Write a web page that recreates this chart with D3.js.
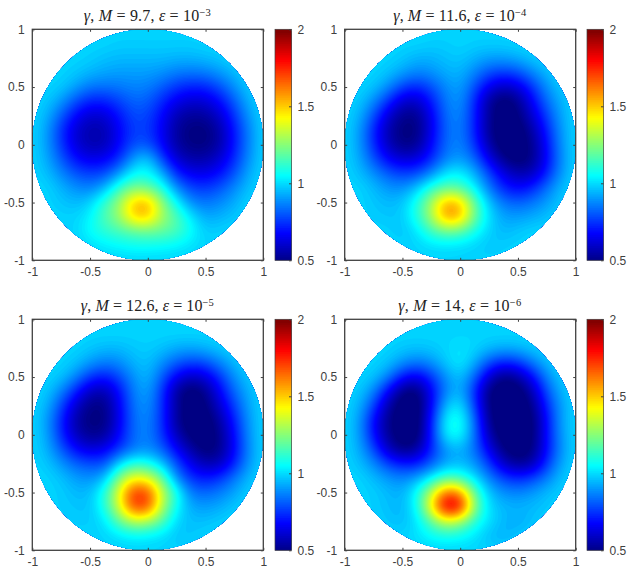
<!DOCTYPE html>
<html><head><meta charset="utf-8">
<script src="https://cdn.jsdelivr.net/npm/d3@7"></script>
<style>
html,body{margin:0;padding:0;background:#fff}
svg{display:block}
text{font-family:"Liberation Sans",Arial,sans-serif;font-size:12px;fill:#404040}
text.ttl{font-family:"Liberation Serif",serif;font-size:16px;fill:#222}
</style></head><body>
<svg id="c" width="637" height="580"></svg>
<script>
const gridAxis=[-1,-.875,-.75,-.625,-.5,-.375,-.25,-.125,0,.125,.25,.375,.5,.625,.75,.875,1];
const axisTicks=[-1,-0.5,0,0.5,1];
const barTicks=[0.5,1,1.5,2];
const one=[1,1,1,1,1,1,1,1,1,1,1,1,1,1,1,1,1];
const gridA=[one,
[1,1,1,1,1,1,.99,.99,.99,.99,.99,.99,1,1,1,1,1],
[1,1,1,1,.99,.97,.96,.96,.96,.96,.95,.95,.96,.98,1,1,1],
[1,1,1,.98,.95,.93,.92,.92,.92,.90,.87,.86,.87,.91,.96,1,1],
[1,1,.98,.92,.86,.85,.86,.88,.87,.82,.76,.73,.74,.80,.90,.98,1],
[1,.98,.91,.80,.73,.73,.78,.83,.82,.74,.66,.62,.63,.70,.82,.95,1],
[1,.95,.82,.69,.62,.63,.71,.79,.78,.69,.58,.54,.55,.62,.76,.91,1],
[1,.92,.76,.63,.57,.58,.68,.77,.77,.67,.55,.50,.50,.57,.72,.88,1],
[1,.92,.77,.64,.58,.59,.69,.80,.81,.69,.56,.51,.51,.57,.72,.88,1],
[1,.94,.82,.71,.66,.68,.76,.92,.98,.79,.63,.57,.57,.63,.75,.90,1],
[1,.97,.89,.81,.78,.80,.92,1.06,1.07,.95,.75,.67,.66,.71,.81,.94,1],
[1,1,.95,.90,.88,.96,1.13,1.24,1.22,1.10,.90,.79,.77,.81,.89,.97,1],
[1,1,.98,.96,1.0,1.13,1.28,1.5,1.53,1.27,1.06,.90,.86,.89,.94,1,1],
[1,1,1,1,1.05,1.17,1.28,1.48,1.5,1.30,1.17,1.03,.94,.95,.98,1,1],
[1,1,1,1,1.07,1.12,1.16,1.2,1.22,1.2,1.16,1.07,.99,1,1,1,1],
[1,1,1,1,1.01,1.04,1.06,1.08,1.08,1.07,1.05,1.02,1,1,1,1,1],
one];
const gridB=[one,
[1,1,1,1,1,1,.99,.99,1,.99,.99,.99,1,1,1,1,1],
[1,1,1,1,.98,.95,.95,.97,.98,.95,.92,.92,.94,.98,1,1,1],
[1,1,1,.97,.92,.88,.90,.94,.95,.88,.80,.77,.80,.88,.96,1,1],
[1,1,.97,.89,.78,.74,.80,.89,.92,.80,.66,.60,.64,.76,.90,.98,1],
[1,.98,.89,.75,.62,.61,.72,.86,.90,.74,.55,.48,.53,.68,.84,.95,1],
[1,.95,.80,.63,.53,.53,.67,.84,.88,.73,.54,.47,.50,.62,.78,.93,1],
[1,.92,.74,.58,.50,.51,.66,.83,.87,.73,.53,.47,.47,.56,.73,.91,1],
[1,.92,.75,.60,.52,.54,.69,.84,.88,.76,.57,.47,.47,.53,.70,.90,1],
[1,.94,.81,.69,.63,.65,.75,.88,.92,.84,.66,.53,.48,.53,.69,.89,1],
[1,.97,.90,.82,.78,.80,.90,1.03,1.05,.95,.79,.65,.58,.60,.74,.91,1],
[1,1,.96,.91,.90,.98,1.12,1.2,1.18,1.05,.87,.74,.69,.74,.85,.96,1],
[1,1,.98,.96,.98,1.10,1.30,1.54,1.50,1.2,.98,.86,.83,.86,.92,.98,1],
[1,1,.99,.98,.99,1.11,1.30,1.56,1.52,1.22,1.02,.93,.92,.94,.97,1,1],
[1,1,1,1,.98,1.03,1.15,1.22,1.2,1.09,1.0,.96,.98,1,1,1,1],
[1,1,1,1,1,1,1.02,1.03,1.02,1,.98,.99,1,1,1,1,1],
one];
const gridC=[one,
one,
[1,1,1,1,.98,.96,.96,.98,.99,.97,.94,.93,.95,.98,1,1,1],
[1,1,1,.97,.91,.87,.89,.95,.97,.90,.82,.78,.80,.88,.96,1,1],
[1,1,.97,.88,.76,.72,.79,.90,.95,.82,.67,.60,.64,.76,.90,.98,1],
[1,.98,.88,.73,.60,.58,.70,.87,.92,.76,.55,.48,.53,.68,.84,.95,1],
[1,.95,.79,.62,.52,.52,.67,.85,.90,.75,.55,.47,.50,.62,.78,.93,1],
[1,.92,.74,.57,.50,.51,.66,.84,.88,.75,.54,.47,.47,.56,.73,.91,1],
[1,.93,.75,.60,.53,.55,.69,.84,.88,.76,.59,.49,.47,.53,.70,.90,1],
[1,.95,.82,.70,.64,.67,.77,.87,.90,.83,.68,.56,.49,.53,.69,.89,1],
[1,.98,.91,.83,.80,.81,1.0,1.12,1.1,.98,.80,.66,.58,.60,.74,.91,1],
[1,1,.97,.92,.90,.97,1.24,1.42,1.39,1.2,.90,.76,.72,.76,.86,.96,1],
[1,1,.99,.96,.97,1.11,1.40,1.71,1.69,1.35,1.09,.87,.84,.87,.93,.99,1],
[1,1,.99,.98,.98,1.11,1.37,1.69,1.67,1.32,1.07,.94,.92,.94,.98,1,1],
[1,1,1,.99,.99,1.03,1.2,1.33,1.31,1.18,1.01,.97,.97,.99,1,1,1],
[1,1,1,1,1,1,1.03,1.06,1.05,1.02,.98,.98,1,1,1,1,1],
one];
const gridD=[one,
one,
[1,1,1,1,.98,.97,.98,1.0,1.02,1.0,.96,.94,.95,.98,1,1,1],
[1,1,1,.97,.90,.86,.90,.98,1.03,.94,.80,.73,.76,.86,.96,1,1],
[1,1,.97,.87,.71,.66,.76,.90,.97,.83,.62,.52,.56,.69,.88,.98,1],
[1,.98,.88,.68,.52,.50,.68,.88,.95,.75,.51,.46,.47,.58,.80,.95,1],
[1,.95,.78,.57,.47,.47,.68,.96,1.02,.78,.51,.46,.46,.52,.74,.92,1],
[1,.92,.70,.53,.46,.47,.72,1.04,1.08,.84,.53,.46,.46,.49,.70,.92,1],
[1,.92,.71,.54,.47,.48,.73,1.03,1.06,.85,.58,.47,.46,.49,.70,.91,1],
[1,.94,.79,.61,.52,.56,.74,.91,.95,.85,.66,.51,.47,.51,.70,.90,1],
[1,.97,.89,.78,.72,.73,.83,.94,.97,.91,.77,.61,.54,.58,.76,.93,1],
[1,1,.96,.91,.88,.93,1.05,1.18,1.15,1.02,.88,.78,.74,.78,.87,.97,1],
[1,1,.99,.96,.95,1.08,1.34,1.64,1.58,1.2,.98,.90,.88,.91,.96,.99,1],
[1,1,.99,.97,.96,1.08,1.44,1.84,1.78,1.27,1.02,.96,.95,.96,.98,1,1],
[1,1,1,.98,.97,1.03,1.2,1.36,1.3,1.12,1.02,.96,.94,.97,1,1,1],
[1,1,1,1,1,1.02,1.07,1.1,1.08,1.03,.97,.95,.98,1,1,1,1],
one];
const grids=[gridA,gridB,gridC,gridD];
const titleM=["9.7","11.6","12.6","14"];
const titleExp=["\u22123","\u22124","\u22125","\u22126"];
const titleWidths=[127,133,133,123];

function jet(t){
  const c=v=>Math.round(255*Math.max(0,Math.min(1,v)));
  return d3.rgb(c(1.5-Math.abs(4*t-3)),c(1.5-Math.abs(4*t-2)),c(1.5-Math.abs(4*t-1))).formatHex();
}
const svg=d3.select("#c");
const nLevels=128, factor=8;
const vDomain=[0.5,2];
const levels=d3.range(nLevels).map(i=>vDomain[0]+(vDomain[1]-vDomain[0])*i/nLevels);
const colorOf=d3.scaleLinear().domain(vDomain).range([0,1]);

// Smooth shading of the grid for display (like MATLAB's interpolated shading)
function cr(p0,p1,p2,p3,t){return 0.5*(2*p1+(p2-p0)*t+(2*p0-5*p1+4*p2-p3)*t*t+(3*p1-p0-3*p2+p3)*t*t*t);}
function shade(g){
  const n=g.length,m=(n-1)*factor+1,out=new Float64Array(m*m);
  const at=(r,c)=>g[Math.max(0,Math.min(n-1,r))][Math.max(0,Math.min(n-1,c))];
  for(let j=0;j<m;j++){
    const rr=Math.min(n-2,Math.floor(j/factor)),tr=j/factor-rr;
    for(let i=0;i<m;i++){
      const cc=Math.min(n-2,Math.floor(i/factor)),tc=i/factor-cc;
      const col=[-1,0,1,2].map(d=>cr(at(rr+d,cc-1),at(rr+d,cc),at(rr+d,cc+1),at(rr+d,cc+2),tc));
      out[j*m+i]=cr(col[0],col[1],col[2],col[3],tr);
    }
  }
  d3.blur2({data:out,width:m,height:m},3);
  for(let i=0;i<out.length;i++)out[i]=Math.max(0.5,Math.min(2,out[i]));
  return {values:out,m};
}
const lefts=[32.3,344.7], tops=[29.3,319.3], side=231;
const barLefts=[275,587], barW=16.5;

grids.forEach((g,k)=>{
  const ox=lefts[k%2], oy=tops[k>>1], bx=barLefts[k%2];
  const x=d3.scaleLinear().domain([-1,1]).range([ox,ox+side]);
  const y=d3.scaleLinear().domain([-1,1]).range([oy+side,oy]);
  const {values,m}=shade(g);
  const px=d3.scaleLinear().domain([0.5,m-0.5]).range([gridAxis[0],gridAxis[gridAxis.length-1]]);
  const py=d3.scaleLinear().domain([0.5,m-0.5]).range([gridAxis[gridAxis.length-1],gridAxis[0]]);
  const path=d3.geoPath(d3.geoTransform({point(a,b){this.stream.point(x(px(a)),y(py(b)));}}));
  const contours=d3.contours().size([m,m]).thresholds(levels)(values);
  const id="clip"+k;
  svg.append("clipPath").attr("id",id).append("circle").attr("cx",x(0)).attr("cy",y(0)).attr("r",x(1)-x(0));
  const gp=svg.append("g").attr("clip-path",`url(#${id})`);
  gp.selectAll("path").data(contours).join("path")
    .attr("d",d=>path(d))
    .attr("fill",(d,i)=>jet((i+.5)/nLevels));
  const ax=(gen,tx,ty,fmt)=>{
    const s=svg.append("g").attr("transform",`translate(${tx},${ty})`).call(gen.tickValues(axisTicks).tickSizeOuter(0).tickSizeInner(-2.5).tickPadding(fmt?7.5:0).tickFormat(fmt?(d=>String(d)):""));
    s.select(".domain").attr("stroke","none");
    s.selectAll(".tick line").attr("stroke","#404040").attr("stroke-width",1);
    s.selectAll("text").attr("font-family",null).attr("font-size",null);
    return s;
  };
  ax(d3.axisBottom(x),0,oy+side,true);
  ax(d3.axisLeft(y),ox,0,true);
  ax(d3.axisTop(x),0,oy,false);
  ax(d3.axisRight(y),ox+side,0,false);
  svg.append("rect").attr("x",ox).attr("y",oy).attr("width",side).attr("height",side)
    .attr("fill","none").attr("stroke","#404040").attr("stroke-width",1.3);
  const cy=d3.scaleLinear().domain(vDomain).range([oy+side,oy]);
  const step=(vDomain[1]-vDomain[0])/nLevels;
  svg.append("g").selectAll("rect").data(levels).join("rect")
    .attr("x",bx).attr("width",barW)
    .attr("y",d=>cy(d+step))
    .attr("height",d=>Math.min(cy(d)-cy(d+step)+2,oy+side-cy(d+step)))
    .attr("fill",d=>jet(colorOf(d+step/2)));
  const by=svg.append("g").attr("transform",`translate(${bx+barW},0)`)
    .call(d3.axisRight(cy).tickValues(barTicks).tickSizeOuter(0).tickSizeInner(-2.5).tickPadding(6).tickFormat(d=>String(d)));
  by.select(".domain").attr("stroke","none");
  by.selectAll(".tick line").attr("stroke","#404040");
  by.selectAll("text").attr("font-family",null).attr("font-size",null);
  svg.append("rect").attr("x",bx).attr("y",oy).attr("width",barW).attr("height",side)
    .attr("fill","none").attr("stroke","#404040").attr("stroke-width",0.7);
  const t=svg.append("text").attr("class","ttl").attr("x",x(0)-0.5).attr("y",oy-8).attr("text-anchor","middle")
    .attr("textLength",titleWidths[k]).attr("lengthAdjust","spacing");
  t.append("tspan").attr("font-style","italic").text("\u03B3");
  t.append("tspan").text(", ");
  t.append("tspan").attr("font-style","italic").text("M");
  t.append("tspan").text(" = "+titleM[k]+", ");
  t.append("tspan").attr("font-style","italic").text("\u03B5");
  t.append("tspan").text(" = 10");
  t.append("tspan").attr("dy",-5).style("font-size","10.5px").text(titleExp[k]);
});
</script>
</body></html>
